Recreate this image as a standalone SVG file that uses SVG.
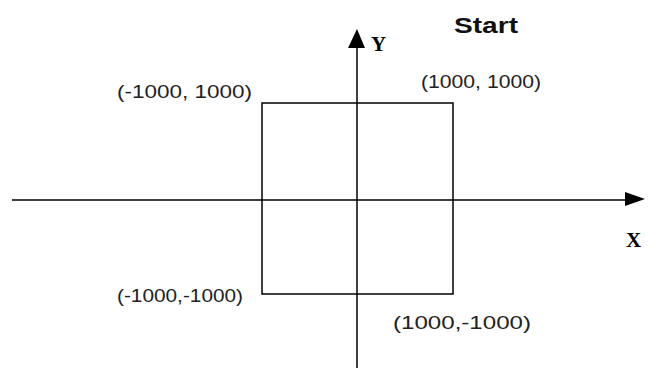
<svg xmlns="http://www.w3.org/2000/svg" width="649" height="368" viewBox="0 0 649 368">
<style>
.ln{stroke:#000;stroke-width:1.5;fill:none}
.lbl{font-family:"Liberation Sans",Arial,sans-serif;font-size:19px;fill:#222}
.ax{font-family:"Liberation Serif","Times New Roman",serif;font-size:21px;font-weight:bold;fill:#000}
</style>
<rect width="649" height="368" fill="#fff"/>
<g id="connectors">
<line class="ln" x1="12" y1="200" x2="627" y2="200"/>
<polygon points="625,192 645,199 625,206" fill="#000"/>
<line class="ln" x1="357" y1="46" x2="357" y2="368"/>
<polygon points="348,48 357,29 365,48" fill="#000"/>
</g>
<g id="square">
<rect class="ln" x="262" y="103" width="191" height="191"/>
</g>
<g id="axis-y"><text class="ax" x="371" y="51">Y</text></g>
<g id="axis-x"><text class="ax" x="626" y="247">X</text></g>
<g id="start"><text x="454" y="33" font-family="Liberation Sans,Arial,sans-serif" font-size="22" font-weight="bold" fill="#111" textLength="64" lengthAdjust="spacingAndGlyphs">Start</text></g>
<g id="p1"><text class="lbl" x="421" y="88" textLength="120" lengthAdjust="spacingAndGlyphs">(1000, 1000)</text></g>
<g id="p2"><text class="lbl" x="117" y="98" textLength="135" lengthAdjust="spacingAndGlyphs">(-1000, 1000)</text></g>
<g id="p3"><text class="lbl" x="117" y="302" textLength="126" lengthAdjust="spacingAndGlyphs">(-1000,-1000)</text></g>
<g id="p4"><text class="lbl" x="393" y="329" textLength="138" lengthAdjust="spacingAndGlyphs">(1000,-1000)</text></g>
</svg>
